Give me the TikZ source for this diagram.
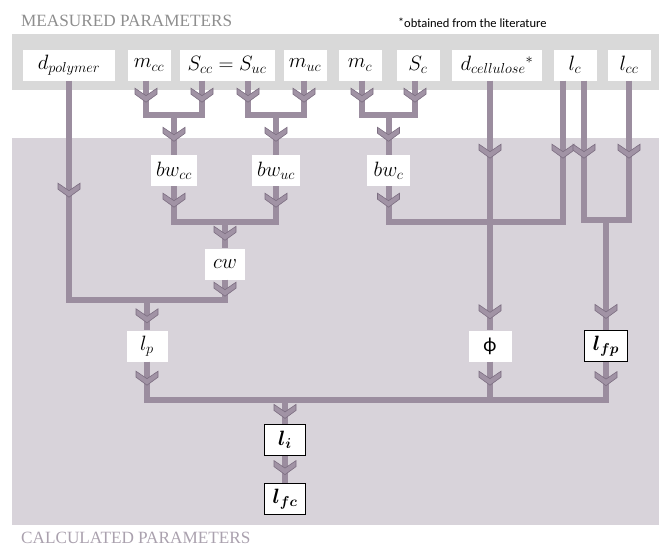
\documentclass[tikz,border=0pt]{standalone}
\usepackage{amsmath}
\usepackage{fontspec}
\newfontfamily\titlefont{Liberation Serif}
\newfontfamily\notefont{Carlito}
\usetikzlibrary{positioning,decorations.markings}

\definecolor{bandgray}{HTML}{D9D9D9}
\definecolor{calcbg}{HTML}{D8D3DA}
\definecolor{flowc}{HTML}{9B8D9F}
\definecolor{chevf}{HTML}{A193A5}
\definecolor{chevd}{HTML}{7C6E81}
\definecolor{titlec}{HTML}{8E8E8E}
\definecolor{calctitlec}{HTML}{AAA1AE}

\tikzset{
  param/.style={fill=white,minimum width=43pt,minimum height=31pt,inner xsep=5pt,
    font=\fontsize{21}{23}\selectfont},
  result/.style={param,draw=black,line width=1.2pt},
  flow/.style={draw=flowc,line width=6pt},
  chev/.style={postaction={decorate},decoration={markings,mark=at position #1 with
    {\filldraw[fill=chevf,draw=chevd,line width=.6pt] (0,0) -- (-8,11) -- (-14,11)
      -- (-6.5,0) -- (-14,-11) -- (-8,-11) -- cycle;}}},
}

\begin{document}
\begin{tikzpicture}[x=1pt,y=-1pt]
  \useasboundingbox (0,0) rectangle (659,547);
  % backgrounds
  \fill[bandgray] (12,34) rectangle (659,90);
  \fill[calcbg] (12,138) rectangle (659,525);
  \node[anchor=west,inner sep=0pt,text=titlec,font=\titlefont\fontsize{17.2}{19}\selectfont]
    (mtitle) at (21,21) {MEASURED PARAMETERS};
  \node[anchor=west,inner sep=0pt,text=calctitlec,font=\titlefont\fontsize{17.2}{19}\selectfont]
    (ctitle) at (21,538) {CALCULATED PARAMETERS};
  \node[anchor=west,inner sep=0pt,font=\notefont\fontsize{12.5}{14}\selectfont]
    (note) at (398,23) {\raisebox{1.5pt}{\large*}obtained from the literature};

  % measured parameters
  \node[param,minimum width=92pt] (dpoly) at (69,65) {$d_{polymer}$};
  \node[param] (mcc) at (149,65) {$m_{cc}$};
  \node[param,minimum width=95pt] (Suc) at (227,65) {$S_{cc}=S_{uc}$};
  \node[param] (muc) at (305,65) {$m_{uc}$};
  \node[param] (mc) at (360,65) {$m_{c}$};
  \node[param] (Sc) at (418,65) {$S_{c}$};
  \node[param,minimum width=90pt] (dcell) at (497,65) {$d_{cellulose}{}^{*}$};
  \node[param] (lc) at (575,65) {$l_{c}$};
  \node[param] (lcc) at (629,65) {$l_{cc}$};

  % calculated parameters
  \node[param] (bwcc) at (174,170.5) {$bw_{cc}$};
  \node[param] (bwuc) at (276,170.5) {$bw_{uc}$};
  \node[param] (bwc) at (388.5,170.5) {$bw_{c}$};
  \node[param,minimum width=40pt] (cw) at (225,264) {$cw$};
  \node[param,minimum width=41pt] (lp) at (147,346) {$l_{p}$};
  \node[param,font=\notefont\fontsize{20}{22}\selectfont] (phi) at (490,346) {ϕ};
  \node[result] (lfp) at (606,346) {$\boldsymbol{l_{fp}}$};
  \node[result,minimum width=41pt] (li) at (285,440) {$\boldsymbol{l_{i}}$};
  \node[result,minimum width=41pt] (lfc) [below=27pt of li] {$\boldsymbol{l_{fc}}$};

  % junctions
  \coordinate (jcc) at (174,115);
  \coordinate (juc) at (276,115);
  \coordinate (jc) at (388.5,115);
  \coordinate (jw) at (225,222);
  \coordinate (jphi) at (490,222);
  \coordinate (jfp) at (606,220);
  \coordinate (jp) at (147,300);
  \coordinate (ji) at (285,400);

  % flows
  \draw[flow,chev=21.5pt] ([xshift=-3pt]mcc.south) |- (jcc);
  \draw[flow,chev=21.5pt] ([xshift=-25pt]Suc.south) |- (jcc);
  \draw[flow,chev=21.5pt] ([xshift=21pt]Suc.south) |- (juc);
  \draw[flow,chev=21.5pt] ([xshift=-1pt]muc.south) |- (juc);
  \draw[flow,chev=21.5pt] ([xshift=2pt]mc.south) |- (jc);
  \draw[flow,chev=21.5pt] ([xshift=-3pt]Sc.south) |- (jc);
  \draw[flow,chev=-13.5pt] (jcc) -- (bwcc);
  \draw[flow,chev=-13.5pt] (juc) -- (bwuc);
  \draw[flow,chev=-13.5pt] (jc) -- (bwc);

  \draw[flow,chev=21pt] (bwcc.south) |- (jw);
  \draw[flow,chev=21pt] (bwuc.south) |- (jw);
  \draw[flow,chev=-8pt] (jw) -- (cw);
  \draw[flow,chev=116.5pt] (dpoly.south) |- (jp);
  \draw[flow,chev=16.5pt] (cw.south) |- (jp);
  \draw[flow,chev=-7.5pt] (jp) -- (lp);

  \draw[flow,chev=21pt] (bwc.south) |- (jphi);
  \draw[flow,chev=77.5pt] ([xshift=-12pt]lc.south) |- (jphi);
  \draw[flow,chev=77.5pt] ([xshift=-7pt]dcell.south) -- (jphi);
  \draw[flow,chev=-11.5pt] (jphi) -- (phi);
  \draw[flow,chev=77.5pt] ([xshift=9pt]lc.south) |- (jfp);
  \draw[flow,chev=77.5pt] (lcc.south) |- (jfp);
  \draw[flow,chev=-11.5pt] (jfp) -- (lfp);

  \draw[flow,chev=23.5pt] (lp.south) |- (ji);
  \draw[flow,chev=23.5pt] (phi.south) |- (ji);
  \draw[flow,chev=23.5pt] (lfp.south) |- (ji);
  \draw[flow,chev=-5.5pt] (ji) -- (li);
  \draw[flow,chev=-8.5pt] (li) -- (lfc);
\end{tikzpicture}
\end{document}
